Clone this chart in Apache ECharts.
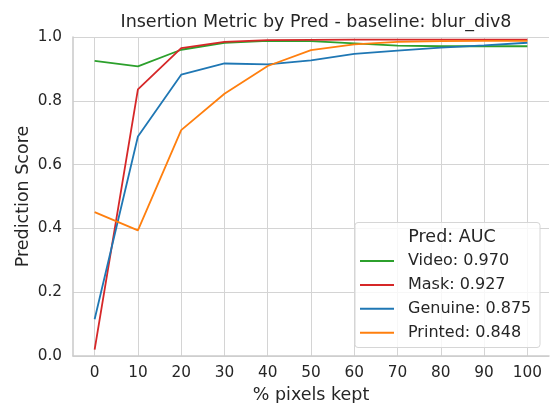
<!DOCTYPE html>
<html>
<head>
<meta charset="utf-8">
<script src="https://cdn.jsdelivr.net/npm/echarts@6/dist/echarts.min.js"></script>
<style>
  html, body { margin: 0; padding: 0; background: #fff; }
  #chart { width: 550px; height: 403px; }
</style>
</head>
<body>
<div id="chart"></div>
<script>
const pixelsKept = [0, 10, 20, 30, 40, 50, 60, 70, 80, 90, 100];

const predNames = ['Video: 0.970', 'Mask: 0.927', 'Genuine: 0.875', 'Printed: 0.848'];
const predColors = ['#2ca02c', '#d62728', '#1f77b4', '#ff7f0e'];

const videoScores = [0.925, 0.908, 0.960, 0.982, 0.988, 0.987, 0.980, 0.973, 0.971, 0.971, 0.971];
const maskScores = [0.020, 0.836, 0.965, 0.985, 0.990, 0.991, 0.992, 0.992, 0.992, 0.992, 0.992];
const genuineScores = [0.115, 0.688, 0.882, 0.917, 0.914, 0.927, 0.947, 0.957, 0.967, 0.974, 0.982];
const printedScores = [0.451, 0.394, 0.708, 0.822, 0.909, 0.959, 0.977, 0.985, 0.987, 0.988, 0.988];

const allScores = [videoScores, maskScores, genuineScores, printedScores];

const font = 'DejaVu Sans';
const ink = '#262626';

const chart = echarts.init(document.getElementById('chart'));

chart.setOption({
  animation: false,
  backgroundColor: '#fff',
  textStyle: { fontFamily: font },
  title: [
    {
      text: 'Insertion Metric by Pred - baseline: blur_div8',
      left: 311,
      top: 8,
      textAlign: 'center',
      textStyle: { fontFamily: font, fontSize: 17.5, fontWeight: 'normal', color: ink },
    },
    {
      text: 'Pred: AUC',
      left: 447,
      top: 223,
      textAlign: 'center',
      z: 10,
      textStyle: { fontFamily: font, fontSize: 17.5, fontWeight: 'normal', color: ink },
    },
  ],
  graphic: [
    {
      type: 'rect',
      shape: { x: 355, y: 222.5, width: 185, height: 125, r: 3 },
      style: { fill: 'rgba(255,255,255,0.8)', stroke: '#d6d6d6', lineWidth: 1 },
      z: 5,
    },
  ],
  legend: {
    orient: 'vertical',
    left: 360,
    top: 253,
    padding: 0,
    itemGap: 7.9,
    itemWidth: 34,
    itemHeight: 2,
    icon: 'rect',
    z: 10,
    textStyle: { fontFamily: font, fontSize: 16, color: ink, lineHeight: 16, padding: [0, 0, 0, 9] },
    data: predNames,
  },
  grid: { left: 73, right: 1, top: 37, bottom: 47, outerBoundsMode: 'none' },
  xAxis: {
    type: 'value',
    min: -5,
    max: 105,
    name: '% pixels kept',
    nameLocation: 'middle',
    nameGap: 30,
    nameMoveOverlap: false,
    nameTextStyle: { fontFamily: font, fontSize: 17.5, color: ink },
    axisLine: { show: true, onZero: false, lineStyle: { color: '#cccccc', width: 1.6 } },
    axisTick: { show: false, customValues: pixelsKept },
    axisLabel: {
      customValues: pixelsKept,
      margin: 10,
      fontFamily: font,
      fontSize: 15.3,
      color: ink,
    },
    splitLine: { show: true, lineStyle: { color: '#d4d4d4', width: 1 } },
  },
  yAxis: {
    type: 'value',
    min: 0,
    max: 1,
    interval: 0.2,
    name: 'Prediction Score',
    nameLocation: 'middle',
    nameGap: 41,
    nameMoveOverlap: false,
    nameTextStyle: { fontFamily: font, fontSize: 17.5, color: ink },
    axisLine: { show: true, onZero: false, lineStyle: { color: '#cccccc', width: 1.6 } },
    axisTick: { show: false },
    axisLabel: {
      margin: 11,
      fontFamily: font,
      fontSize: 15.3,
      color: ink,
      formatter: (v) => v.toFixed(1),
    },
    splitLine: { show: true, lineStyle: { color: '#d4d4d4', width: 1 } },
  },
  series: predNames.map((name, i) => ({
    name,
    type: 'line',
    data: pixelsKept.map((x, j) => [x, allScores[i][j]]),
    symbol: 'none',
    color: predColors[i],
    lineStyle: { color: predColors[i], width: 1.8 },
    z: 2 + i,
  })),
});
</script>
</body>
</html>
